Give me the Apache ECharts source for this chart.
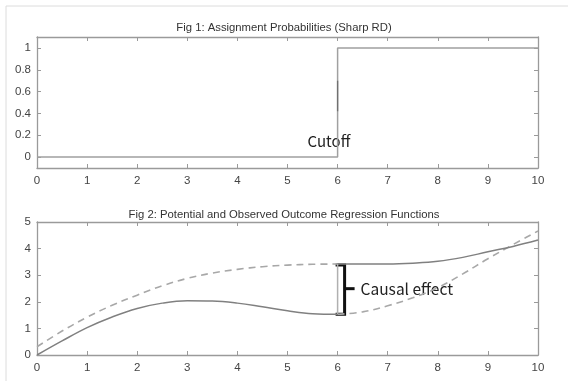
<!DOCTYPE html>
<html><head><meta charset="utf-8">
<script src="https://cdn.jsdelivr.net/npm/echarts@6/dist/echarts.min.js"></script>
<style>html,body{margin:0;padding:0;background:#fff}#c{width:568px;height:381px}</style>
</head><body><div id="c"></div>
<script>
// ---- data ----
const title1 = 'Fig 1: Assignment Probabilities (Sharp RD)';
const title2 = 'Fig 2: Potential and Observed Outcome Regression Functions';
const cutoff = 6;
const stepX = [0, 6, 6, 10];
const stepY = [0, 0, 1, 1];
const xGrid = [0,0.5,1,1.5,2,2.5,3,3.5,4,4.5,5,5.5,6,6.5,7,7.5,8,8.5,9,9.5,10];
const y0 = [0,0.53,1.03,1.43,1.75,1.95,2.04,2.03,1.95,1.81,1.66,1.55,1.53,1.62,1.85,2.15,2.53,3.05,3.62,4.15,4.66];
const y1 = [0.31,0.9,1.42,1.87,2.25,2.6,2.88,3.08,3.22,3.32,3.38,3.41,3.42,3.42,3.42,3.45,3.52,3.67,3.88,4.08,4.32];
const yTicks1 = [0,0.2,0.4,0.6,0.8,1];
const xTicks = [0,1,2,3,4,5,6,7,8,9,10];
const label1 = 'Cutoff';
const label2 = 'Causal effect';

const pts = (xs, ys, cond) => xs.map((x,i)=>[x, ys[i]]).filter(p=>cond(p[0]));
const axisColor = '#9a9a9a';
const labelStyle = {color:'#444', fontFamily:'Liberation Sans, Arial', fontSize:11.5};

function xAx(grid, pos, show) {
  return {type:'value', gridIndex:grid, min:0, max:10, interval:1, position:pos,
    axisLine:{show:true, onZero:false, lineStyle:{color:axisColor, width:1.3}},
    axisTick:{show:true, inside:true, length:4, lineStyle:{color:axisColor}},
    axisLabel:{show:show, margin:7, ...labelStyle},
    splitLine:{show:false}};
}
function yAx1(pos, show) {
  return {type:'value', gridIndex:0, min:-0.1, max:1.1, position:pos,
    axisLine:{show:true, onZero:false, lineStyle:{color:axisColor, width:1.3}},
    axisTick:{show:true, inside:true, length:4, customValues:yTicks1, lineStyle:{color:axisColor}},
    axisLabel:{show:show, margin:6, customValues:yTicks1, ...labelStyle},
    splitLine:{show:false}};
}
function yAx2(pos, show) {
  return {type:'value', gridIndex:1, min:0, max:5, interval:1, position:pos,
    axisLine:{show:true, onZero:false, lineStyle:{color:axisColor, width:1.3}},
    axisTick:{show:true, inside:true, length:4, lineStyle:{color:axisColor}},
    axisLabel:{show:show, margin:6, ...labelStyle},
    splitLine:{show:false}};
}

const chart = echarts.init(document.getElementById('c'), null, {renderer:'canvas'});
const lineBase = {type:'line', showSymbol:false, symbol:'none', animation:false, silent:true};
const titleStyle = {fontSize:11.3, fontWeight:'normal', color:'#333', fontFamily:'Liberation Sans, Arial'};
chart.setOption({
  animation:false,
  title:[
    {text:title1, left:'center', top:17, textStyle:titleStyle},
    {text:title2, left:'center', top:204, textStyle:titleStyle}
  ],
  grid:[
    {left:37, right:30, top:37, height:131},
    {left:37, right:30, top:222, height:133}
  ],
  xAxis:[xAx(0,'bottom',true), xAx(0,'top',false), xAx(1,'bottom',true), xAx(1,'top',false)],
  yAxis:[yAx1('left',true), yAx1('right',false), yAx2('left',true), yAx2('right',false)],
  series:[
    {...lineBase, xAxisIndex:0, yAxisIndex:0, data:stepX.map((x,i)=>[x,stepY[i]]),
      lineStyle:{color:'#a0a0a0', width:1.5}},
    {...lineBase, xAxisIndex:0, yAxisIndex:0, data:[[cutoff,0.42],[cutoff,0.7]],
      lineStyle:{color:'#707070', width:1.3}},
    // dashed potential outcomes (unobserved parts)
    {...lineBase, xAxisIndex:2, yAxisIndex:2, smooth:0.4, data:pts(xGrid,y1,x=>x<=cutoff),
      lineStyle:{color:'#a8a8a8', width:1.6, type:[7,5]}},
    {...lineBase, xAxisIndex:2, yAxisIndex:2, smooth:0.4, data:pts(xGrid,y0,x=>x>=cutoff),
      lineStyle:{color:'#a8a8a8', width:1.6, type:[7,5]}},
    // observed (solid)
    {...lineBase, xAxisIndex:2, yAxisIndex:2, smooth:0.4, data:pts(xGrid,y0,x=>x<=cutoff),
      lineStyle:{color:'#808080', width:1.5}},
    {...lineBase, xAxisIndex:2, yAxisIndex:2, smooth:0.4, data:pts(xGrid,y1,x=>x>=cutoff),
      lineStyle:{color:'#808080', width:1.5}},
    // vertical gap at cutoff
    {...lineBase, xAxisIndex:2, yAxisIndex:2, data:[[cutoff, y0[xGrid.indexOf(cutoff)]],[cutoff, y1[xGrid.indexOf(cutoff)]]],
      lineStyle:{color:'#b0b0b0', width:1.5}}
  ]
});

// annotations anchored to data
const ci = xGrid.indexOf(cutoff);
const pTop = chart.convertToPixel({xAxisIndex:2, yAxisIndex:2}, [cutoff, y1[ci]]);
const pBot = chart.convertToPixel({xAxisIndex:2, yAxisIndex:2}, [cutoff, y0[ci]]);
const pCut = chart.convertToPixel({xAxisIndex:0, yAxisIndex:0}, [cutoff, 0]);
const bx = pTop[0] + 7, yT = pTop[1] + 1, yB = pBot[1], yM = (yT + yB) / 2 - 1;
chart.setOption({
  graphic:[
    {type:'polyline', silent:true, shape:{points:[[pTop[0]-2,yT],[bx,yT],[bx,yB],[pTop[0]-2,yB]]},
      style:{stroke:'#111', lineWidth:3, fill:null}},
    {type:'line', silent:true, shape:{x1:bx, y1:yM, x2:bx+10, y2:yM}, style:{stroke:'#111', lineWidth:3}},
    {type:'text', silent:true, x:bx+16, y:yM, style:{text:label2, fill:'#222', font:'15.5px "Noto Sans CJK KR", "Noto Sans"', textVerticalAlign:'middle'}},
    {type:'text', silent:true, x:pCut[0]-30, y:pCut[1]-16, style:{text:label1, fill:'#222', font:'15px "Noto Sans CJK KR", "Noto Sans"', textVerticalAlign:'middle'}},
    {type:'polyline', silent:true, shape:{points:[[6,381],[6,6],[568,6]]}, style:{stroke:'#dcdcdc', lineWidth:1, fill:null}}
  ]
});
</script></body></html>
